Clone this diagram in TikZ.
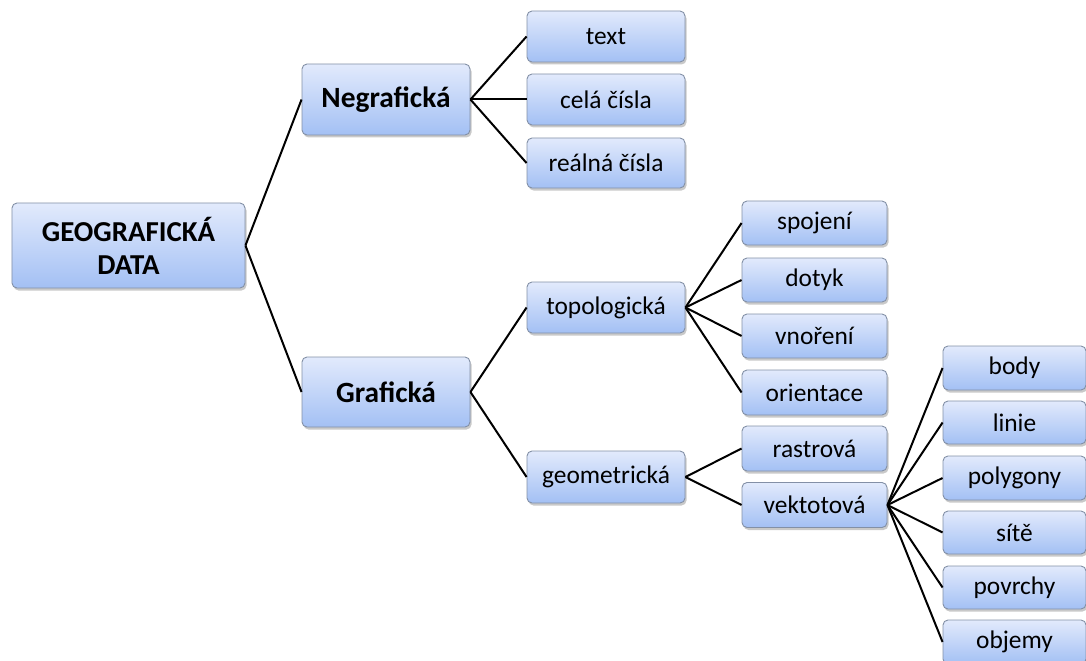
\documentclass[tikz,border=0pt]{standalone}
\usepackage{fontspec}
\setmainfont{Carlito}
\usetikzlibrary{shadows}
\definecolor{boxtop}{HTML}{E2EAFC}
\definecolor{boxbot}{HTML}{A3C0F4}
\definecolor{boxline}{HTML}{8390A6}
\tikzset{
  box/.style={draw=boxline, line width=0.9bp, rounded corners=5bp,
    top color=boxtop, bottom color=boxbot, inner sep=0pt,
    drop shadow={opacity=0.3, shadow xshift=1.5bp, shadow yshift=-2.5bp, fill=black!70},
    font=\fontsize{25.5}{28}\selectfont, text=black},
  big/.style={box, font=\fontsize{29.5}{32}\selectfont\bfseries},
  conn/.style={draw=black, line width=2bp}
}
\begin{document}
\begin{tikzpicture}[x=1bp,y=-1bp]
\useasboundingbox (0,0) rectangle (1086,661);
% level 0
\node[big, minimum width=233bp, minimum height=85bp, align=center, font=\fontsize{29}{33}\selectfont\bfseries] (geo) at (128.5,245.5) {GEOGRAFICKÁ\\DATA};
% level 1
\node[big, minimum width=168bp, minimum height=71bp] (neg) at (386,99.5) {Negrafická};
\node[big, minimum width=168bp, minimum height=70bp] (graf) at (386,392) {Grafická};
% level 2
\node[box, minimum width=158bp, minimum height=51bp] (text) at (606,36.5) {text};
\node[box, minimum width=158bp, minimum height=51bp] (cela) at (606,99.5) {celá čísla};
\node[box, minimum width=158bp, minimum height=50bp] (realna) at (606,163) {reálná čísla};
\node[box, minimum width=158bp, minimum height=51bp] (topo) at (606,307.5) {topologická};
\node[box, minimum width=158bp, minimum height=52bp] (geom) at (606,477) {geometrická};
% level 3
\node[box, minimum width=145bp, minimum height=44bp] (spojeni) at (814.5,223) {spojení};
\node[box, minimum width=145bp, minimum height=44bp] (dotyk) at (814.5,280) {dotyk};
\node[box, minimum width=145bp, minimum height=44bp] (vnoreni) at (814.5,336) {vnoření};
\node[box, minimum width=145bp, minimum height=45bp] (orientace) at (814.5,392.5) {orientace};
\node[box, minimum width=145bp, minimum height=45bp] (rastrova) at (814.5,448.5) {rastrová};
\node[box, minimum width=145bp, minimum height=45bp] (vektotova) at (814.5,505) {vektotová};
% level 4
\node[box, minimum width=143bp, minimum height=44bp] (body) at (1014.5,368) {body};
\node[box, minimum width=143bp, minimum height=43bp] (linie) at (1014.5,422.5) {linie};
\node[box, minimum width=143bp, minimum height=44bp] (polygony) at (1014.5,478) {polygony};
\node[box, minimum width=143bp, minimum height=43bp] (site) at (1014.5,532.5) {sítě};
\node[box, minimum width=143bp, minimum height=43bp] (povrchy) at (1014.5,587.5) {povrchy};
\node[box, minimum width=143bp, minimum height=44bp] (objemy) at (1014.5,642) {objemy};
% connectors
\foreach \a/\b in {geo/neg, geo/graf, neg/text, neg/cela, neg/realna,
  graf/topo, graf/geom, topo/spojeni, topo/dotyk, topo/vnoreni, topo/orientace,
  geom/rastrova, geom/vektotova, vektotova/body, vektotova/linie, vektotova/polygony,
  vektotova/site, vektotova/povrchy, vektotova/objemy}
  \draw[conn] (\a.east) -- (\b.west);
\end{tikzpicture}
\end{document}
